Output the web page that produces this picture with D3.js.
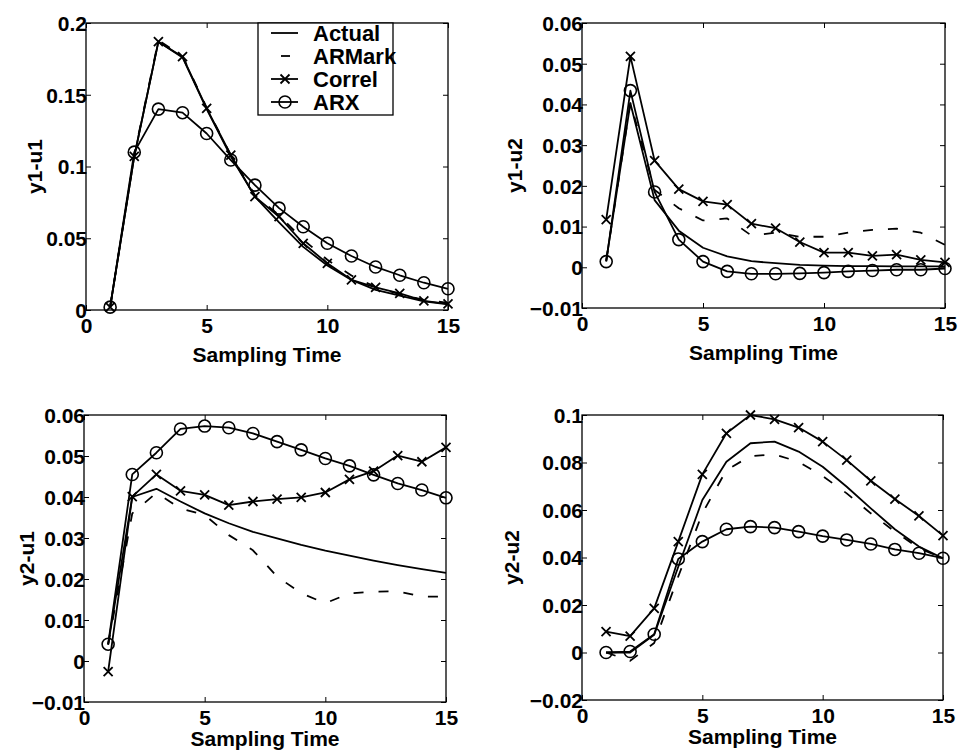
<!DOCTYPE html>
<html>
<head>
<meta charset="utf-8">
<script src="https://cdn.jsdelivr.net/npm/d3@7"></script>
<style>
  body { margin: 0; background: #fff; }
  svg { display: block; }
  text { font-family: "Liberation Sans", Arial, sans-serif; font-weight: bold; fill: #000; }
</style>
</head>
<body>
<svg id="chart" width="960" height="753"></svg>
<script>
// ---------- data ----------
const time = [1,2,3,4,5,6,7,8,9,10,11,12,13,14,15];
const seriesNames = ["Actual", "ARMark", "Correl", "ARX"];
const xTickValues = [0, 5, 10, 15];

// y1-u1
const y1u1Actual = [0.002,0.107,0.187,0.176,0.140,0.107,0.079,0.061,0.044,0.031,0.021,0.014,0.010,0.006,0.004];
const y1u1ARMark = [0.002,0.108,0.188,0.177,0.141,0.108,0.080,0.066,0.049,0.035,0.024,0.016,0.011,0.007,0.005];
const y1u1Correl = [0.002,0.107,0.187,0.1765,0.1405,0.108,0.079,0.065,0.0465,0.0325,0.021,0.0158,0.0116,0.0063,0.0042];
const y1u1ARX    = [0.002,0.110,0.140,0.1375,0.123,0.1045,0.087,0.071,0.058,0.0465,0.0376,0.030,0.0242,0.019,0.0148];
const y1u1Ticks  = [0, 0.05, 0.1, 0.15, 0.2];

// y1-u2
const y1u2Actual = [0.0016,0.0403,0.0165,0.0090,0.0048,0.0027,0.0015,0.0010,0.0006,0.0004,0.0003,0.0003,0.0002,0.0002,0.0002];
const y1u2ARMark = [0.0016,0.0405,0.0190,0.0145,0.0115,0.0120,0.0078,0.0085,0.0075,0.0075,0.0085,0.0092,0.0095,0.0085,0.0055];
const y1u2Correl = [0.0117,0.0518,0.0262,0.0192,0.0162,0.0154,0.0107,0.0096,0.0062,0.0036,0.0036,0.0028,0.0031,0.0018,0.0012];
const y1u2ARX    = [0.0014,0.0434,0.0185,0.0068,0.0014,-0.0010,-0.0016,-0.0016,-0.0015,-0.0013,-0.0010,-0.0008,-0.0006,-0.0006,-0.0003];
const y1u2Ticks  = [-0.01, 0, 0.01, 0.02, 0.03, 0.04, 0.05, 0.06];

// y2-u1
const y2u1Actual = [0.004,0.040,0.042,0.0389,0.036,0.0336,0.0315,0.0299,0.0283,0.0269,0.0257,0.0245,0.0234,0.0224,0.0215];
const y2u1ARMark = [0.004,0.036,0.041,0.0372,0.0356,0.0307,0.027,0.0206,0.0165,0.0141,0.0165,0.0169,0.0170,0.0157,0.0157];
const y2u1Correl = [-0.0026,0.0401,0.0455,0.0415,0.0405,0.038,0.0389,0.0395,0.0399,0.0411,0.0443,0.0463,0.0501,0.0486,0.0521];
const y2u1ARX    = [0.0041,0.0455,0.0508,0.0566,0.0573,0.0569,0.0555,0.0535,0.0515,0.0494,0.0476,0.0454,0.0433,0.0417,0.0398];
const y2u1Ticks  = [-0.01, 0, 0.01, 0.02, 0.03, 0.04, 0.05, 0.06];

// y2-u2
const y2u2Actual = [0,0,0.0075,0.0361,0.0642,0.0803,0.0881,0.0888,0.0846,0.0782,0.0698,0.0607,0.0519,0.0446,0.0397];
const y2u2ARMark = [0,-0.0035,0.004,0.032,0.0586,0.0768,0.0827,0.0834,0.0803,0.0743,0.067,0.0586,0.0509,0.0439,0.0397];
const y2u2Correl = [0.0088,0.0069,0.0186,0.0467,0.075,0.0923,0.100,0.0982,0.0947,0.0888,0.081,0.0723,0.0646,0.0575,0.0492];
const y2u2ARX    = [0,0.0004,0.0077,0.0394,0.0467,0.0519,0.053,0.0526,0.0509,0.049,0.0474,0.0457,0.0434,0.0418,0.0397];
const y2u2Ticks  = [-0.02, 0, 0.02, 0.04, 0.06, 0.08, 0.1];

// ---------- layout ----------
const panels = [
  { label: "y1-u1", box: [86, 23, 448, 310], yDomain: [0, 0.2], ticks: y1u1Ticks,
    data: [y1u1Actual, y1u1ARMark, y1u1Correl, y1u1ARX], ylabX: 35, xlabDy: 52, legend: true },
  { label: "y1-u2", box: [582, 23, 945, 308], yDomain: [-0.01, 0.06], ticks: y1u2Ticks,
    data: [y1u2Actual, y1u2ARMark, y1u2Correl, y1u2ARX], ylabX: 515, xlabDy: 52 },
  { label: "y2-u1", box: [84, 415, 446, 702], yDomain: [-0.01, 0.06], ticks: y2u1Ticks,
    data: [y2u1Actual, y2u1ARMark, y2u1Correl, y2u1ARX], ylabX: 27, xlabDy: 44 },
  { label: "y2-u2", box: [582, 415, 943, 700], yDomain: [-0.02, 0.1], ticks: y2u2Ticks,
    data: [y2u2Actual, y2u2ARMark, y2u2Correl, y2u2ARX], ylabX: 512, xlabDy: 44 }
];

const svg = d3.select("#chart");
const FS = 21;
const TICK = 5;
const LW = 1.8;

function drawMarker(g, kind, x, y) {
  if (kind === "x") {
    const s = 4.5;
    g.append("path")
      .attr("d", `M${x - s},${y - s}L${x + s},${y + s}M${x - s},${y + s}L${x + s},${y - s}`)
      .attr("stroke", "#000").attr("stroke-width", 1.8).attr("fill", "none");
  } else if (kind === "o") {
    g.append("circle").attr("cx", x).attr("cy", y).attr("r", 6)
      .attr("stroke", "#000").attr("stroke-width", 1.6).attr("fill", "none");
  }
}

const styles = [
  { dash: null, marker: null },
  { dash: "10,15", marker: null },
  { dash: null, marker: "x" },
  { dash: null, marker: "o" }
];

panels.forEach(p => {
  const [L, T, R, B] = p.box;
  const x = d3.scaleLinear().domain([0, 15]).range([L, R]);
  const y = d3.scaleLinear().domain(p.yDomain).range([B, T]);
  const g = svg.append("g");

  const cid = "clip-" + p.label;
  svg.append("clipPath").attr("id", cid).append("rect")
    .attr("x", L - 8).attr("y", T - 8).attr("width", R - L + 16).attr("height", B - T + 16);

  const fmt = d => d3.format("")(+d.toFixed(3));
  g.append("g").attr("transform", `translate(0,${B})`)
    .call(d3.axisBottom(x).tickValues(xTickValues).tickSizeInner(-TICK).tickSizeOuter(0).tickFormat(d3.format("d")))
    .call(a => { a.select(".domain").remove(); a.selectAll("line").attr("stroke", "#000");
      a.selectAll("text").attr("font-size", FS).attr("y", 8).attr("dy", "0.71em"); });
  g.append("g").attr("transform", `translate(0,${T})`)
    .call(d3.axisTop(x).tickValues(xTickValues).tickSizeInner(-TICK).tickSizeOuter(0).tickFormat(""))
    .call(a => { a.select(".domain").remove(); a.selectAll("line").attr("stroke", "#000"); });
  g.append("g").attr("transform", `translate(${L},0)`)
    .call(d3.axisLeft(y).tickValues(p.ticks).tickSizeInner(-TICK).tickSizeOuter(0).tickFormat(fmt))
    .call(a => { a.select(".domain").remove(); a.selectAll("line").attr("stroke", "#000");
      a.selectAll("text").attr("font-size", FS).attr("x", 1).attr("dy", "0.35em"); });
  g.append("g").attr("transform", `translate(${R},0)`)
    .call(d3.axisRight(y).tickValues(p.ticks).tickSizeInner(-TICK).tickSizeOuter(0).tickFormat(""))
    .call(a => { a.select(".domain").remove(); a.selectAll("line").attr("stroke", "#000"); });
  g.selectAll(".tick text").attr("font-family", "Liberation Sans, Arial, sans-serif").attr("font-weight", "bold").attr("fill", "#000");

  g.append("rect").attr("x", L).attr("y", T).attr("width", R - L).attr("height", B - T)
    .attr("fill", "none").attr("stroke", "#000").attr("stroke-width", 1.3);

  const plot = g.append("g").attr("clip-path", `url(#${cid})`);
  p.data.forEach((vals, i) => {
    const st = styles[i];
    const line = d3.line().x((d, j) => x(time[j])).y(d => y(d));
    plot.append("path").datum(vals).attr("d", line)
      .attr("fill", "none").attr("stroke", "#000").attr("stroke-width", LW)
      .attr("stroke-dasharray", st.dash).attr("stroke-linejoin", "round");
    if (st.marker) vals.forEach((v, j) => drawMarker(plot, st.marker, x(time[j]), y(v)));
  });

  g.append("text").attr("x", (L + R) / 2).attr("y", B + p.xlabDy)
    .attr("text-anchor", "middle").attr("font-size", FS).text("Sampling Time");
  g.append("text").attr("transform", `translate(${p.ylabX},${(T + B) / 2}) rotate(-90)`)
    .attr("text-anchor", "middle").attr("dy", "0.35em").attr("font-size", FS).text(p.label);

  if (p.legend) {
    const lg = g.append("g");
    const lx0 = 258, ly0 = T, lx1 = 393, ly1 = 115;
    lg.append("rect").attr("x", lx0).attr("y", ly0).attr("width", lx1 - lx0).attr("height", ly1 - ly0)
      .attr("fill", "#fff").attr("stroke", "#000").attr("stroke-width", 1.3);
    seriesNames.forEach((name, i) => {
      const yy = 33 + i * 23;
      const st = styles[i];
      if (st.dash) {
        lg.append("line").attr("x1", 281).attr("x2", 290).attr("y1", yy).attr("y2", yy)
          .attr("stroke", "#000").attr("stroke-width", LW);
      } else {
        lg.append("line").attr("x1", 271).attr("x2", 298).attr("y1", yy).attr("y2", yy)
          .attr("stroke", "#000").attr("stroke-width", LW);
      }
      if (st.marker) drawMarker(lg, st.marker, 285, yy);
      lg.append("text").attr("x", 313).attr("y", yy).attr("dy", "0.35em")
        .attr("font-size", FS + 1).text(name);
    });
  }
});
</script>
</body>
</html>
